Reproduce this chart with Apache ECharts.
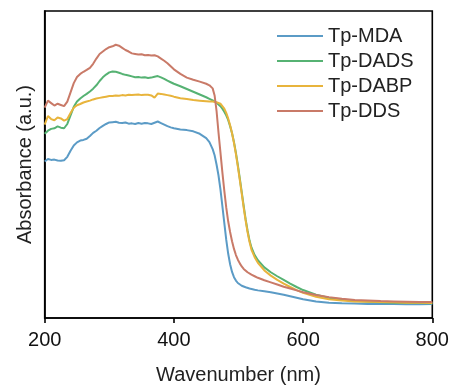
<!DOCTYPE html>
<html><head><meta charset="utf-8">
<script src="https://cdn.jsdelivr.net/npm/echarts@6/dist/echarts.min.js"></script>
<style>html,body{margin:0;padding:0;background:#fff}#c{width:455px;height:390px}</style>
</head><body><div id="c"></div>
<script>
const wavelengths = [200,205,210,215,220,225,230,235,240,245,250,255,260,265,270,275,280,285,290,295,300,305,310,315,320,325,330,335,340,345,350,355,360,365,370,375,380,385,390,395,400,410,420,430,440,450,455,460,463,466,469,472,475,478,481,484,487,490,493,496,499,502,505,508,511,514,517,520,525,530,540,550,560,570,580,590,600,620,640,660,680,700,720,740,760,780,800];
const seriesNames = ['Tp-MDA','Tp-DADS','Tp-DABP','Tp-DDS'];
const tpMDA = [51.0,51.8,51.5,51.6,51.3,51.2,51.4,52.5,54.5,56.2,57.2,57.8,58.0,58.4,59.3,60.3,61.0,61.9,62.6,63.2,63.7,63.8,63.9,63.6,63.5,63.7,63.3,63.4,63.2,63.5,63.3,63.5,63.4,63.2,63.6,64.0,63.5,63.0,62.5,62.1,61.8,61.4,61.2,60.8,60.0,58.6,57.3,55.0,53.0,50.0,46.5,42.0,36.5,31.0,25.5,21.0,17.5,15.0,13.3,12.2,11.4,10.9,10.5,10.2,10.0,9.8,9.6,9.4,9.2,9.0,8.7,8.4,8.0,7.6,7.1,6.6,6.1,5.4,5.0,4.8,4.7,4.6,4.6,4.6,4.5,4.5,4.6];
const tpDADS = [60.0,61.0,61.6,61.8,62.4,62.0,61.8,63.2,66.0,68.8,70.5,71.5,72.3,73.0,73.8,74.7,75.8,77.2,78.4,79.3,80.0,80.3,80.2,79.9,79.5,79.2,79.0,78.7,78.4,78.5,78.3,78.4,78.2,78.3,78.6,78.8,78.4,77.9,77.3,76.8,76.3,75.5,74.6,73.7,72.8,71.9,71.4,70.9,70.5,70.1,69.6,69.0,68.2,67.2,66.0,64.5,62.5,60.2,57.3,53.8,49.8,45.5,41.0,36.5,32.2,28.5,25.3,23.0,20.5,18.8,16.5,14.9,13.6,12.4,11.2,10.1,9.1,7.6,6.6,6.0,5.6,5.3,5.1,5.0,4.9,4.9,4.8];
const tpDABP = [63.0,65.8,64.8,64.4,65.3,65.0,64.3,64.8,66.8,68.5,69.3,69.7,70.2,70.5,70.8,71.2,71.5,71.7,71.9,72.1,72.3,72.3,72.5,72.4,72.6,72.5,72.7,72.6,72.7,72.8,72.6,72.7,72.7,72.5,71.8,73.1,73.0,72.8,72.6,72.4,72.1,71.6,71.3,71.0,70.8,70.6,70.5,70.5,70.4,70.3,70.1,69.8,69.2,68.2,66.8,65.0,62.8,60.2,57.0,53.4,49.3,45.0,40.5,36.0,31.8,28.0,24.8,22.3,19.8,18.0,15.5,13.8,12.4,11.2,10.1,9.1,8.2,6.9,6.1,5.7,5.4,5.3,5.2,5.1,5.0,5.0,4.9];
const tpDDS = [68.5,70.8,70.0,69.2,69.8,69.4,69.0,70.5,73.5,76.5,78.5,79.5,80.2,80.8,81.5,82.8,84.5,86.0,86.8,87.6,88.2,88.5,89.0,88.7,88.0,87.3,86.8,86.2,86.0,85.8,85.9,85.6,85.7,85.5,85.6,85.2,84.5,83.8,83.0,82.0,81.0,79.5,78.3,77.6,77.0,76.3,75.8,74.8,72.5,67.5,60.5,54.0,47.5,41.5,36.0,31.5,28.0,25.0,22.5,20.5,19.0,17.8,16.8,16.0,15.4,14.9,14.5,14.1,13.6,13.1,12.3,11.6,10.9,10.2,9.6,9.0,8.4,7.5,6.8,6.3,5.9,5.7,5.5,5.4,5.3,5.2,5.2];
const xTicks = [200,400,600,800];

const colors = ['#5b9bc6','#56b273','#e8b43c','#c97a68'];
const allValues = [tpMDA,tpDADS,tpDABP,tpDDS];
const font = '"Liberation Sans", Arial, sans-serif';

const chart = echarts.init(document.getElementById('c'), null, {renderer:'canvas'});
chart.setOption({
  animation:false,
  backgroundColor:'#fff',
  grid:{left:44.7,right:22.7,top:11,bottom:66.7,show:true,borderColor:'#000',borderWidth:1.6,backgroundColor:'transparent'},
  legend:{
    orient:'vertical', left:272, top:21, itemWidth:46, itemHeight:2, itemGap:5,
    icon:'rect',
    textStyle:{fontFamily:font,fontSize:20,color:'#222'},
    data:seriesNames
  },
  xAxis:{
    type:'value', min:xTicks[0], max:xTicks[xTicks.length-1], interval:200,
    axisLine:{show:true,lineStyle:{color:'#000',width:1.6}},
    axisTick:{show:true,inside:false,length:5,lineStyle:{color:'#000',width:1.6}},
    axisLabel:{fontFamily:font,fontSize:20,color:'#111',margin:12},
    splitLine:{show:false},
    name:'Wavenumber (nm)', nameLocation:'middle', nameGap:47,
    nameTextStyle:{fontFamily:font,fontSize:20,color:'#222'}
  },
  yAxis:{
    type:'value', min:0, max:100,
    axisLine:{show:true,lineStyle:{color:'#000',width:1.6}},
    axisTick:{show:false}, axisLabel:{show:false}, splitLine:{show:false},
    name:'Absorbance (a.u.)', nameLocation:'middle', nameGap:9,
    nameTextStyle:{fontFamily:font,fontSize:20,color:'#222'}
  },
  series: seriesNames.map((n,i)=>({
    name:n, type:'line', showSymbol:false, symbol:'none', smooth:false,
    lineStyle:{color:colors[i],width:2}, itemStyle:{color:colors[i]},
    data: wavelengths.map((w,j)=>[w, allValues[i][j]])
  }))
});
</script></body></html>
